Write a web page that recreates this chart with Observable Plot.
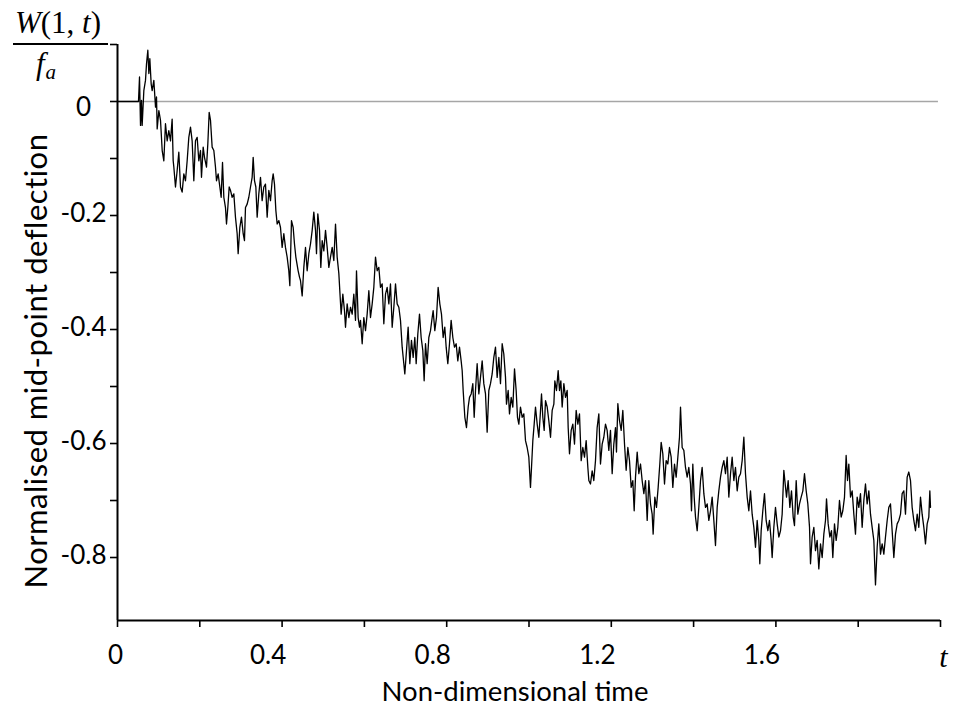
<!DOCTYPE html>
<html><head><meta charset="utf-8">
<script src="https://cdn.jsdelivr.net/npm/d3@7"></script>
<script src="https://cdn.jsdelivr.net/npm/@observablehq/plot@0.6"></script>
<style>
html,body{margin:0;padding:0;background:#fff;}
#chart{width:955px;height:709px;}
</style></head><body><div id="chart"></div>
<script>
// Readings [t, W(1,t)/fa] taken from the reference trace, in order of time
const segmentA = [[0,0],[0.0510,0],[0.0535,0.043],[0.0559,-0.042],[0.0583,0.002],[0.0599,-0.042],[0.0640,0.019],[0.0680,0.037],[0.0705,0.066],[0.0737,0.090],
[0.0762,0.049],[0.0786,0.075],[0.0818,0.031],[0.0843,0.019],[0.0883,0.037],[0.0924,-0.010],[0.0948,0.008],[0.0964,-0.048],[0.1005,-0.016],[0.1045,-0.033],
[0.1086,-0.086],[0.1126,-0.104],[0.1166,-0.039],[0.1207,-0.069],[0.1247,-0.051],[0.1288,-0.069],[0.1328,-0.031],[0.1353,-0.104],[0.1369,-0.115],[0.1409,-0.150],
[0.1450,-0.121],[0.1490,-0.089],[0.1531,-0.150],[0.1571,-0.159],[0.1612,-0.127],[0.1652,-0.139],[0.1693,-0.104],[0.1733,-0.063],[0.1774,-0.045],[0.1814,-0.069],
[0.1855,-0.139],[0.1895,-0.069],[0.1936,-0.063],[0.1976,-0.104],[0.2017,-0.086],[0.2041,-0.133],[0.2082,-0.080],[0.2114,-0.098],[0.2163,-0.115],[0.2195,-0.074],
[0.2228,-0.019],[0.2260,-0.033],[0.2300,-0.080],[0.2341,-0.086],[0.2381,-0.115],[0.2406,-0.139],[0.2446,-0.127],[0.2487,-0.150],[0.2519,-0.168],[0.2552,-0.107],
[0.2584,-0.168],[0.2624,-0.186],[0.2649,-0.215],[0.2681,-0.186],[0.2714,-0.150],[0.2746,-0.156],[0.2786,-0.168],[0.2827,-0.162],[0.2867,-0.203],[0.2908,-0.232],
[0.2932,-0.267],[0.2973,-0.221],[0.3013,-0.203],[0.3054,-0.232],[0.3086,-0.244],[0.3110,-0.186],[0.3151,-0.180],[0.3191,-0.168],[0.3232,-0.150],[0.3272,-0.133],
[0.3297,-0.098],[0.3329,-0.139],[0.3362,-0.150],[0.3394,-0.203],[0.3434,-0.162],[0.3475,-0.133],[0.3515,-0.174],[0.3556,-0.150],[0.3596,-0.145],[0.3637,-0.203],
[0.3677,-0.156],[0.3718,-0.174],[0.3758,-0.139],[0.3783,-0.127],[0.3815,-0.145],[0.3848,-0.191],[0.3880,-0.215],[0.3921,-0.209],[0.3961,-0.221],[0.4001,-0.256],
[0.4042,-0.232],[0.4082,-0.256],[0.4123,-0.273],[0.4163,-0.297],[0.4188,-0.323],[0.4228,-0.209],[0.4269,-0.221],[0.4301,-0.250],[0.4334,-0.273]];

const segmentB = [[0.4390,-0.297],[0.4423,-0.308],[0.4447,-0.314],[0.4488,-0.341],[0.4528,-0.291],[0.4569,-0.256],[0.4609,-0.297],[0.4650,-0.267],[0.4690,-0.250],[0.4731,-0.226],
[0.4771,-0.194],[0.4812,-0.226],[0.4836,-0.267],[0.4868,-0.197],[0.4909,-0.226],[0.4941,-0.291],[0.4974,-0.244],[0.5014,-0.262],[0.5055,-0.226],[0.5095,-0.256],
[0.5136,-0.291],[0.5176,-0.273],[0.5217,-0.256],[0.5257,-0.279],[0.5298,-0.215],[0.5338,-0.273],[0.5379,-0.302],[0.5411,-0.343],[0.5435,-0.373],[0.5476,-0.338],
[0.5516,-0.367],[0.5541,-0.396],[0.5581,-0.355],[0.5622,-0.379],[0.5662,-0.361],[0.5703,-0.373],[0.5743,-0.338],[0.5784,-0.384],[0.5808,-0.297],[0.5848,-0.379],
[0.5881,-0.396],[0.5905,-0.384],[0.5946,-0.425],[0.5986,-0.379],[0.6027,-0.402],[0.6067,-0.373],[0.6108,-0.332],[0.6148,-0.379],[0.6189,-0.355],[0.6229,-0.326],
[0.6270,-0.273],[0.6310,-0.297],[0.6351,-0.291],[0.6391,-0.326],[0.6432,-0.320],[0.6472,-0.390],[0.6513,-0.338],[0.6553,-0.326],[0.6594,-0.355],[0.6634,-0.320],
[0.6675,-0.396],[0.6715,-0.361],[0.6756,-0.320],[0.6796,-0.355],[0.6837,-0.361],[0.6877,-0.384],[0.6918,-0.431],[0.6958,-0.460],[0.6982,-0.478],[0.7023,-0.437],
[0.7063,-0.396],[0.7104,-0.460],[0.7144,-0.419],[0.7185,-0.449],[0.7225,-0.414],[0.7258,-0.460],[0.7298,-0.408],[0.7339,-0.373],[0.7379,-0.414],[0.7420,-0.437],
[0.7452,-0.490],[0.7485,-0.425],[0.7525,-0.460],[0.7566,-0.414],[0.7606,-0.402],[0.7647,-0.379],[0.7671,-0.367],[0.7711,-0.402],[0.7752,-0.379],[0.7792,-0.326],
[0.7833,-0.355],[0.7873,-0.373],[0.7914,-0.414],[0.7954,-0.396],[0.7987,-0.431],[0.8027,-0.460],[0.8068,-0.425],[0.8108,-0.384],[0.8149,-0.414],[0.8189,-0.431],
[0.8230,-0.425],[0.8270,-0.455],[0.8311,-0.431],[0.8351,-0.455]];

const segmentC = [[0.8376,-0.472],[0.8400,-0.507],[0.8441,-0.554],[0.8481,-0.572],[0.8522,-0.536],[0.8554,-0.519],[0.8595,-0.513],[0.8635,-0.495],[0.8668,-0.554],[0.8700,-0.507],
[0.8740,-0.460],[0.8781,-0.513],[0.8821,-0.484],[0.8862,-0.455],[0.8902,-0.495],[0.8943,-0.513],[0.8983,-0.580],[0.9024,-0.507],[0.9064,-0.495],[0.9105,-0.478],
[0.9145,-0.449],[0.9186,-0.431],[0.9226,-0.484],[0.9267,-0.449],[0.9307,-0.495],[0.9348,-0.425],[0.9388,-0.443],[0.9429,-0.484],[0.9453,-0.531],[0.9494,-0.507],
[0.9526,-0.548],[0.9567,-0.519],[0.9607,-0.536],[0.9648,-0.469],[0.9688,-0.507],[0.9720,-0.554],[0.9753,-0.566],[0.9793,-0.536],[0.9834,-0.554],[0.9874,-0.548],
[0.9915,-0.595],[0.9955,-0.607],[0.9996,-0.624],[1.0036,-0.677],[1.0061,-0.642],[1.0093,-0.595],[1.0126,-0.566],[1.0158,-0.536],[1.0199,-0.566],[1.0239,-0.589],
[1.0280,-0.542],[1.0304,-0.513],[1.0336,-0.554],[1.0369,-0.577],[1.0401,-0.525],[1.0442,-0.536],[1.0482,-0.560],[1.0523,-0.589],[1.0563,-0.542],[1.0604,-0.531],
[1.0628,-0.490],[1.0668,-0.507],[1.0709,-0.472],[1.0741,-0.507],[1.0774,-0.490],[1.0806,-0.536],[1.0847,-0.495],[1.0887,-0.519],[1.0928,-0.507],[1.0952,-0.572],
[1.0984,-0.618],[1.1025,-0.577],[1.1065,-0.566],[1.1106,-0.601],[1.1146,-0.542],[1.1187,-0.566],[1.1227,-0.548],[1.1268,-0.630],[1.1308,-0.607],[1.1349,-0.624],
[1.1389,-0.595],[1.1430,-0.642],[1.1454,-0.665],[1.1494,-0.671],[1.1535,-0.648],[1.1575,-0.665],[1.1616,-0.630],[1.1656,-0.572],[1.1697,-0.548],[1.1737,-0.636],
[1.1778,-0.601],[1.1818,-0.589],[1.1859,-0.566],[1.1899,-0.577],[1.1940,-0.612],[1.1980,-0.577],[1.2021,-0.653],[1.2061,-0.601],[1.2102,-0.572]];

const segmentD = [[1.2126,-0.615],[1.2159,-0.530],[1.2199,-0.560],[1.2240,-0.577],[1.2280,-0.542],[1.2321,-0.601],[1.2361,-0.647],[1.2402,-0.607],[1.2442,-0.630],[1.2483,-0.677],
[1.2523,-0.665],[1.2556,-0.718],[1.2588,-0.659],[1.2629,-0.615],[1.2669,-0.653],[1.2710,-0.636],[1.2750,-0.665],[1.2791,-0.688],[1.2831,-0.665],[1.2872,-0.735],
[1.2912,-0.665],[1.2953,-0.706],[1.2993,-0.724],[1.3017,-0.759],[1.3058,-0.694],[1.3098,-0.712],[1.3139,-0.677],[1.3179,-0.636],[1.3212,-0.598],[1.3252,-0.618],
[1.3293,-0.671],[1.3333,-0.630],[1.3374,-0.636],[1.3414,-0.607],[1.3455,-0.624],[1.3495,-0.677],[1.3536,-0.636],[1.3576,-0.659],[1.3617,-0.624],[1.3657,-0.589],
[1.3682,-0.536],[1.3722,-0.607],[1.3763,-0.612],[1.3803,-0.642],[1.3844,-0.659],[1.3884,-0.642],[1.3925,-0.671],[1.3949,-0.718],[1.3981,-0.636],[1.4014,-0.694],
[1.4046,-0.729],[1.4087,-0.753],[1.4127,-0.712],[1.4168,-0.665],[1.4208,-0.642],[1.4249,-0.688],[1.4289,-0.712],[1.4330,-0.706],[1.4370,-0.735],[1.4411,-0.718],
[1.4451,-0.694],[1.4492,-0.735],[1.4532,-0.779],[1.4573,-0.712],[1.4613,-0.683],[1.4654,-0.659],[1.4694,-0.642],[1.4735,-0.630],[1.4775,-0.653],[1.4816,-0.624],
[1.4856,-0.694],[1.4897,-0.653],[1.4937,-0.624],[1.4978,-0.665],[1.5018,-0.642],[1.5059,-0.683],[1.5099,-0.659],[1.5140,-0.653],[1.5180,-0.630],[1.5221,-0.589],
[1.5261,-0.653],[1.5302,-0.694],[1.5342,-0.718],[1.5383,-0.683],[1.5423,-0.724],[1.5464,-0.747],[1.5504,-0.782],[1.5545,-0.735],[1.5585,-0.770],[1.5609,-0.811],
[1.5642,-0.753],[1.5682,-0.718],[1.5723,-0.688],[1.5763,-0.735],[1.5804,-0.753],[1.5844,-0.735],[1.5885,-0.770],[1.5909,-0.800],[1.5950,-0.747],[1.5990,-0.712],
[1.6031,-0.741],[1.6071,-0.764],[1.6112,-0.753],[1.6152,-0.724],[1.6193,-0.647],[1.6217,-0.665]];

const segmentE = [[1.6258,-0.694],[1.6298,-0.665],[1.6339,-0.712],[1.6379,-0.683],[1.6420,-0.729],[1.6452,-0.744],[1.6493,-0.665],[1.6533,-0.724],[1.6574,-0.706],[1.6614,-0.694],
[1.6655,-0.683],[1.6695,-0.653],[1.6736,-0.683],[1.6776,-0.706],[1.6817,-0.747],[1.6841,-0.811],[1.6881,-0.764],[1.6922,-0.747],[1.6962,-0.788],[1.7003,-0.770],
[1.7043,-0.820],[1.7084,-0.776],[1.7124,-0.800],[1.7165,-0.759],[1.7205,-0.735],[1.7230,-0.697],[1.7270,-0.741],[1.7311,-0.764],[1.7351,-0.753],[1.7383,-0.800],
[1.7424,-0.741],[1.7464,-0.770],[1.7505,-0.747],[1.7545,-0.700],[1.7586,-0.729],[1.7626,-0.718],[1.7667,-0.694],[1.7707,-0.621],[1.7740,-0.665],[1.7772,-0.636],
[1.7813,-0.694],[1.7853,-0.683],[1.7894,-0.724],[1.7934,-0.759],[1.7975,-0.694],[1.8015,-0.712],[1.8056,-0.688],[1.8096,-0.747],[1.8137,-0.700],[1.8177,-0.671],
[1.8218,-0.706],[1.8258,-0.683],[1.8299,-0.724],[1.8339,-0.747],[1.8380,-0.770],[1.8420,-0.848],[1.8461,-0.782],[1.8501,-0.741],[1.8542,-0.794],[1.8582,-0.776],
[1.8623,-0.794],[1.8663,-0.764],[1.8704,-0.735],[1.8744,-0.712],[1.8785,-0.706],[1.8825,-0.753],[1.8866,-0.800],[1.8906,-0.759],[1.8947,-0.741],[1.8987,-0.735],
[1.9028,-0.724],[1.9068,-0.688],[1.9109,-0.683],[1.9149,-0.724],[1.9190,-0.659],[1.9230,-0.650],[1.9271,-0.665],[1.9311,-0.712],[1.9352,-0.735],[1.9392,-0.753],
[1.9433,-0.724],[1.9473,-0.747],[1.9514,-0.694],[1.9554,-0.724],[1.9595,-0.747],[1.9635,-0.776],[1.9676,-0.741],[1.9716,-0.729],[1.9741,-0.683],[1.9757,-0.712]];

// Axes
const xDomain = [0, 2];
const yDomain = [-0.9105, 0.1];
const xTicks = [0, 0.2, 0.4, 0.6, 0.8, 1.0, 1.2, 1.4, 1.6, 1.8, 2.0];
const xLabelled = [0.4, 0.8, 1.2, 1.6];
const xEndLabel = ["t"];
const yTicks = [-0.8, -0.7, -0.6, -0.5, -0.4, -0.3, -0.2, -0.1, 0, 0.1];
const yLabelled = [-0.2, -0.4, -0.6, -0.8];
const zeroLineEnd = 1.995;
const xTitle = "Non-dimensional time";
const yTitle = "Normalised mid-point deflection";

const data = [...segmentA, ...segmentB, ...segmentC, ...segmentD, ...segmentE].map(([t, w]) => ({t, w}));
const fmt = v => v === 0 ? "0" : v.toFixed(1);
const FONT = "Lato, 'Open Sans', sans-serif";
const MATH = "'Liberation Serif', 'DejaVu Serif', serif";

const svg = Plot.plot({
  width: 955, height: 709,
  marginLeft: 117, marginRight: 15, marginTop: 44, marginBottom: 89,
  x: {domain: xDomain},
  y: {domain: yDomain},
  style: {fontFamily: FONT, fontSize: "26px", color: "#000", background: "#fff", overflow: "visible"},
  marks: [
    Plot.ruleY([0], {x1: 0, x2: zeroLineEnd, stroke: "#a6a6a6", strokeWidth: 1.6}),
    Plot.line(data, {x: "t", y: "w", stroke: "#000", strokeWidth: 1.3}),
    Plot.ruleX([0], {y1: yDomain[0], y2: yDomain[1], stroke: "#000", strokeWidth: 2}),
    Plot.ruleY([yDomain[0]], {x1: xDomain[0], x2: xDomain[1], stroke: "#000", strokeWidth: 2}),
    Plot.axisX({ticks: xTicks, tickSize: 7, tickFormat: () => "", label: null, strokeWidth: 1.6}),
    Plot.axisX({ticks: xLabelled, tickSize: 0, tickPadding: 25, dx: -14, tickFormat: fmt, label: null, fontSize: 26}),
    Plot.axisX({ticks: [0], tickSize: 0, tickPadding: 25, dx: -2, tickFormat: fmt, label: null, fontSize: 26}),
    Plot.text(xEndLabel, {x: xDomain[1], y: yDomain[0], text: d => d, dx: 3, dy: 25, lineAnchor: "top",
      fontStyle: "italic", fontFamily: MATH, fontSize: 30}),
    Plot.axisY({ticks: yTicks, tickSize: 7, tickFormat: () => "", label: null, strokeWidth: 1.6}),
    Plot.axisY({ticks: yLabelled, tickSize: 0, tickPadding: 34, textAnchor: "middle", dy: -2, tickFormat: fmt, label: null, fontSize: 26}),
    Plot.axisY({ticks: [0], tickSize: 0, tickPadding: 34, textAnchor: "middle", dy: 6, tickFormat: fmt, label: null, fontSize: 26})
  ]
});

const s = d3.select(svg);
// axis titles
s.append("text").attr("x", 515).attr("y", 701).attr("text-anchor", "middle")
  .attr("font-family", FONT).attr("font-size", 27.5).attr("fill", "#000").text(xTitle);
s.append("text").attr("transform", "translate(47,361) rotate(-90)").attr("text-anchor", "middle")
  .attr("font-family", FONT).attr("font-size", 31).attr("letter-spacing", 0.5).attr("fill", "#000").text(yTitle);
// y quantity label W(1,t)/f_a
const num = s.append("text").attr("x", 58).attr("y", 33).attr("text-anchor", "middle")
  .attr("font-family", MATH).attr("font-size", 31).attr("fill", "#000");
num.append("tspan").attr("font-style", "italic").text("W");
num.append("tspan").text("(1, ");
num.append("tspan").attr("font-style", "italic").text("t");
num.append("tspan").text(")");
s.append("line").attr("x1", 13).attr("x2", 108).attr("y1", 44).attr("y2", 44)
  .attr("stroke", "#000").attr("stroke-width", 2);
const den = s.append("text").attr("x", 46).attr("y", 74)
  .attr("font-family", MATH).attr("font-size", 31).attr("fill", "#000").attr("font-style", "italic");
den.append("tspan").text("f");
den.append("tspan").attr("font-size", 21).attr("dy", 5).attr("dx", 1).text("a");

document.getElementById("chart").appendChild(svg);
</script>
</body></html>
